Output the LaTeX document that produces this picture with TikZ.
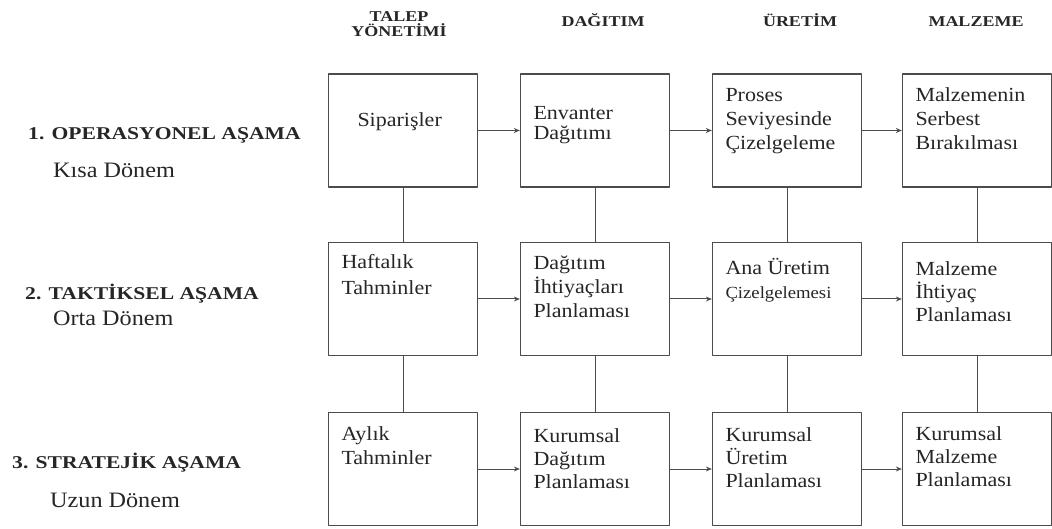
\documentclass[tikz,border=0pt]{standalone}
\usepackage{fontspec}
\usetikzlibrary{arrows.meta}
\setmainfont{Liberation Serif}
\newfontfamily\govde[FakeStretch=1.1]{Liberation Serif}
\newfontfamily\baslik[FakeStretch=1.2]{Liberation Serif}
% kutu icerigi: ust hizali metin, ilk satirin taban cizgisi #1pt asagida
\newcommand{\kutu}[2][28]{\parbox[c][113pt][t]{149pt}{\govde\fontsize{20}{24}\selectfont\raggedright\leftskip=13pt\rule{0pt}{#1pt}#2}}

\begin{document}
\begin{tikzpicture}[x=1pt, y=-1pt, line join=round, >={Stealth[length=6pt,width=5pt]}, font=\govde]
	\tikzset{every node/.style={inner sep=0pt, text=black!85},
		box/.style={draw=black!70, line width=1.3pt},
		link/.style={draw=black!70, line width=1pt},
		hd/.style={font=\baslik\bfseries\fontsize{15}{15}\selectfont, anchor=base},
		asama/.style={font=\baslik\bfseries\fontsize{18}{18}\selectfont, anchor=base west},
		donem/.style={font=\govde\fontsize{22}{22}\selectfont, anchor=base west}}
	\def\xa{403}\def\xb{595}\def\xc{787}\def\xd{977}
	\def\ya{130.5}\def\yb{299}\def\yc{469}
	\useasboundingbox (0,0) rectangle (1052,529);
	% basliklar
	\node[hd, anchor=center, align=center] (hdTalep) at (399,24.5) {TALEP\\YÖNETİMİ};
	\node[hd] (hdDagitim) at (603,27) {DAĞITIM};
	\node[hd] (hdUretim) at (800,27) {ÜRETİM};
	\node[hd] (hdMalzeme) at (976,27) {MALZEME};
	% asamalar
	\node[asama] (as1) at (28,140) {1. OPERASYONEL AŞAMA};
	\node[donem] (dn1) at (53,178) {Kısa Dönem};
	\node[asama] (as2) at (25,300) {2. TAKTİKSEL AŞAMA};
	\node[donem] (dn2) at (53,325) {Orta Dönem};
	\node[asama] (as3) at (12,468) {3. STRATEJİK AŞAMA};
	\node[donem] (dn3) at (50,507) {Uzun Dönem};
	% kutular
	\node[box] (b11) at (\xa,\ya) {\kutu[53]{\hspace*{16pt}Siparişler}};
	\node[box] (b12) at (\xb,\ya) {\kutu[46]{Envanter\\[-4pt]Dağıtımı}};
	\node[box] (b13) at (\xc,\ya) {\kutu{Proses\\Seviyesinde\\Çizelgeleme}};
	\node[box] (b14) at (\xd,\ya) {\kutu{Malzemenin\\Serbest\\Bırakılması}};
	\node[box] (b21) at (\xa,\yb) {\kutu[26]{Haftalık\\[2pt]Tahminler}};
	\node[box] (b22) at (\xb,\yb) {\kutu[27]{Dağıtım\\İhtiyaçları\\Planlaması}};
	\node[box] (b23) at (\xc,\yb) {\kutu[32]{Ana Üretim\\{\fontsize{17}{24}\selectfont Çizelgelemesi}}};
	\node[box] (b24) at (\xd,\yb) {\kutu[33]{Malzeme\\[-1pt]İhtiyaç\\[-1pt]Planlaması}};
	\node[box] (b31) at (\xa,\yc) {\kutu{Aylık\\Tahminler}};
	\node[box] (b32) at (\xb,\yc) {\kutu[30]{Kurumsal\\[-1pt]Dağıtım\\[-1pt]Planlaması}};
	\node[box] (b33) at (\xc,\yc) {\kutu[29]{Kurumsal\\[-1pt]Üretim\\[-1pt]Planlaması}};
	\node[box] (b34) at (\xd,\yc) {\kutu[28]{Kurumsal\\[-1pt]Malzeme\\[-1pt]Planlaması}};
	% baglantilar
	\foreach \r in {1,2,3}
		\foreach \a/\b in {1/2,2/3,3/4}
			\draw[link,->] (b\r\a) -- (b\r\b);
	\foreach \c in {1,...,4}{
		\draw[link] (b1\c) -- (b2\c);
		\draw[link] (b2\c) -- (b3\c);
	}
\end{tikzpicture}
\end{document}
